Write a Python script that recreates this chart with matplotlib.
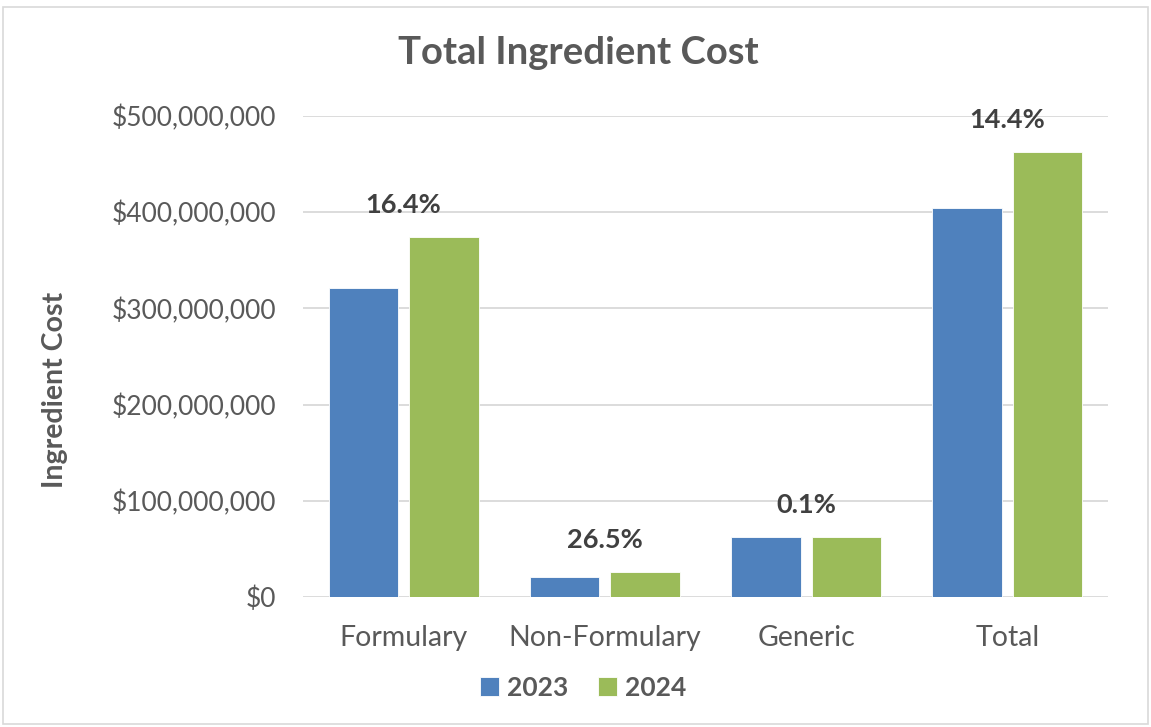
import numpy as np
import matplotlib.pyplot as plt
from matplotlib.ticker import FuncFormatter
from matplotlib.patches import Rectangle

# data
categories = ['Formulary', 'Non-Formulary', 'Generic', 'Total']
cost_2023 = [321e6, 20.8e6, 62.4e6, 404e6]
cost_2024 = [374e6, 26.3e6, 62.4e6, 462.5e6]
pct_labels = ['16.4%', '26.5%', '0.1%', '14.4%']
years = ['2023', '2024']

plt.rcParams['font.family'] = ['Lato', 'DejaVu Sans']
blue = '#4F81BD'
green = '#9BBB59'
txt = '#595959'

fig = plt.figure(figsize=(11.51, 7.27), dpi=100)
ax = fig.add_axes([303 / 1151, 1 - 597 / 727, 805 / 1151, 481 / 727])

x = np.arange(len(categories))
w = 0.345
ax.bar(x - 0.2, cost_2023, w, color=blue, edgecolor='white', linewidth=0.6, label=years[0], zorder=3)
ax.bar(x + 0.2, cost_2024, w, color=green, edgecolor='white', linewidth=0.6, label=years[1], zorder=3)

for i, lab in enumerate(pct_labels):
    top = max(cost_2023[i], cost_2024[i])
    ax.annotate(lab, (x[i], top), xytext=(0, 23), textcoords='offset points',
                ha='center', va='center', fontsize=19.5, fontweight='bold', color='#404040')

ax.set_xlim(-0.5, 3.5)
ax.set_ylim(0, 500e6)
ax.set_yticks(np.arange(0, 500e6 + 1, 100e6))
ax.yaxis.set_major_formatter(FuncFormatter(lambda v, p: '${:,.0f}'.format(v)))
ax.set_xticks(x)
ax.set_xticklabels(categories)
ax.tick_params(length=0, colors=txt)
ax.tick_params(axis='y', labelsize=19, pad=19)
ax.tick_params(axis='x', labelsize=20.5, pad=20)
ax.grid(axis='y', color='#D9D9D9', linewidth=1.3, zorder=0)
ax.set_axisbelow(True)
for s in ax.spines.values():
    s.set_visible(False)

fig.text(55 / 1151, 1 - 390 / 727, 'Ingredient Cost', rotation=90, ha='center', va='center',
         fontsize=20.5, fontweight='bold', color=txt)
fig.text(578 / 1151, 1 - 53 / 727, 'Total Ingredient Cost', ha='center', va='center',
         fontsize=27.5, fontweight='bold', color='#595959')

handles, labels = ax.get_legend_handles_labels()
leg = fig.legend(handles, labels, loc='center', bbox_to_anchor=(583 / 1151, 1 - 688 / 727), ncol=2,
                 frameon=False, prop={'size': 19, 'weight': 'bold'}, handlelength=0.75,
                 handleheight=0.75, handletextpad=0.3, columnspacing=1.1)
for t in leg.get_texts():
    t.set_color(txt)

# chart border
fig.patches.append(Rectangle((3 / 1151, 3 / 727), 1 - 6 / 1151, 1 - 10 / 727,
                             transform=fig.transFigure, fill=False, edgecolor='#D9D9D9', linewidth=1.2))

fig.savefig('out.png', dpi=100, facecolor='white')
